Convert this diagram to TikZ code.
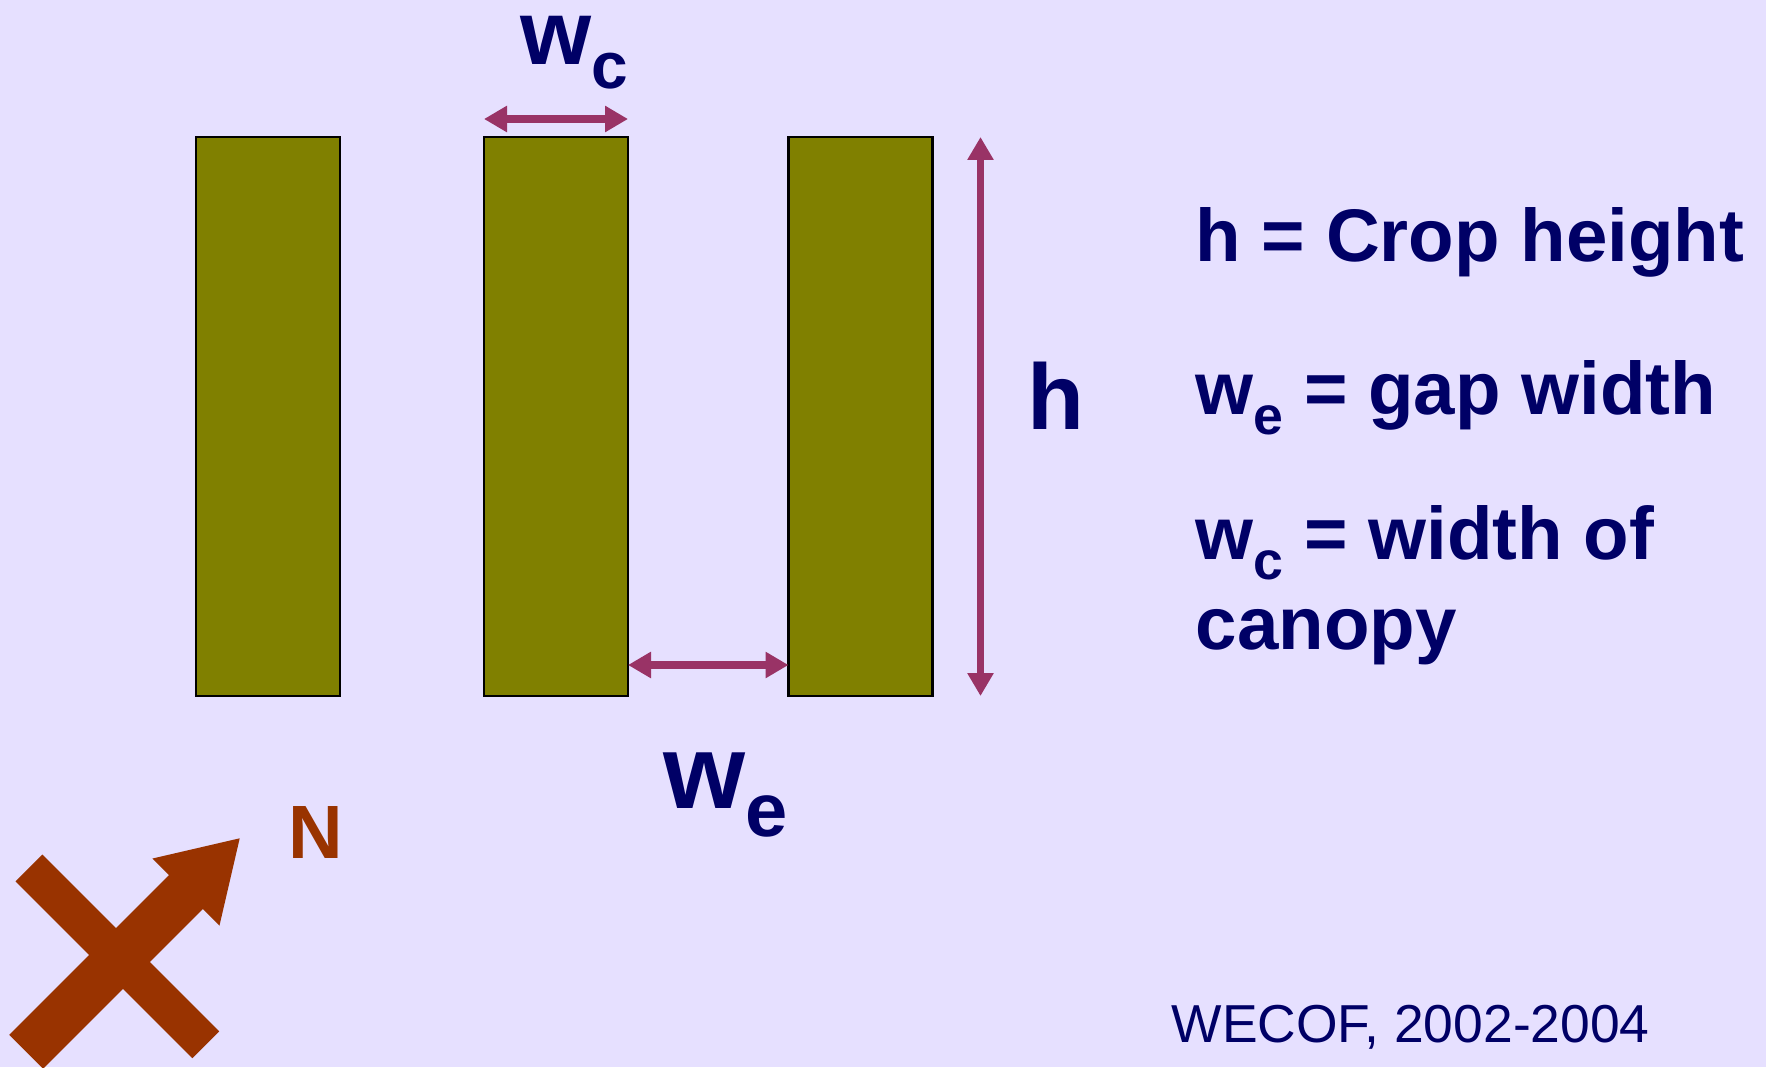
\documentclass[tikz,border=0pt]{standalone}
\usepackage{fontspec}
\setmainfont{Liberation Sans}
\usepackage{graphicx}
\usepackage{tikz}
\usetikzlibrary{calc,arrows.meta}

\definecolor{bgcol}{HTML}{E6E0FF}
\definecolor{navy}{HTML}{000066}
\definecolor{cropcol}{HTML}{808000}
\definecolor{dimcol}{HTML}{993366}
\definecolor{northcol}{HTML}{993300}
\newcommand{\lowsub}[1]{\raisebox{-0.27em}{\scalebox{0.72}{#1}}}

\begin{document}
\begin{tikzpicture}[
		crop/.style={draw=black, line width=0.8pt, fill=cropcol, minimum width=1.44cm, minimum height=5.59cm, inner sep=0pt, outer sep=0pt},
		dimarrow/.style={dimcol, line width=2pt, {Triangle[length=0.23cm, width=0.25cm]}-{Triangle[length=0.23cm, width=0.25cm]}},
		sym/.style={navy, font=\bfseries\fontsize{30}{36}\selectfont, inner sep=0pt, anchor=base west},
		defn/.style={navy, font=\bfseries\fontsize{21.2}{25}\selectfont, inner sep=0pt, anchor=base west}
	]
		
		% 1. background and page size
		\fill[bgcol] (0,0) rectangle (17.66,10.67);
		\useasboundingbox (0,0) rectangle (17.66,10.67);
		
		% 2. the three crop rows
		\node[crop] (R1) at (2.68,6.505) {};
		\node[crop] (R2) at (5.56,6.505) {};
		\node[crop] (R3) at (8.605,6.505) {};
		
		% 3. end points of the dimension arrows
		\coordinate (C1) at ($(R2.north west)+(0,0.18)$);
		\coordinate (C2) at ($(R2.north east)+(0,0.18)$);
		\coordinate (E1) at ($(R2.south east)+(0,0.31)$);
		\coordinate (E2) at ($(R3.south west)+(0,0.31)$);
		\coordinate (H1) at ($(R3.north east)+(0.48,0)$);
		\coordinate (H2) at ($(R3.south east)+(0.48,0)$);
		
		\draw[dimarrow] (C1) -- (C2); % canopy width
		\draw[dimarrow] (E1) -- (E2); % gap width
		\draw[dimarrow] (H1) -- (H2); % crop height
		
		% 4. symbols next to the arrows
		\node[sym, font=\bfseries\fontsize{26}{31}\selectfont] (WC) at (5.20,10.03) {w\lowsub{c}};
		\node[sym] (WE) at (6.63,2.59) {w\lowsub{e}};
		\node[sym, font=\bfseries\fontsize{26.5}{32}\selectfont] (H) at (10.27,6.38) {h};
		
		% 5. definitions on the right
		\node[defn] (D1) at (11.95,8.06) {h = Crop height};
		\node[defn] (D2) at (11.95,6.53) {w\lowsub{e} = gap width};
		\node[defn] (D3) at (11.95,5.08) {w\lowsub{c} = width of};
		\node[defn] (D4) at ($(D3.base west)+(0,-0.90)$) {canopy};
		
		% 6. north arrow with cross bar
		\begin{scope}[shift={(1.195,1.085)}, rotate=45]
			\fill[northcol] (-1.32,-0.24) rectangle (0.94,0.24)
				(-0.19,-1.22) rectangle (0.19,1.28)
				(0.94,0.474) -- (1.70,0) -- (0.94,-0.474) -- cycle;
		\end{scope}
		\node[northcol, font=\bfseries\fontsize{21.5}{26}\selectfont, inner sep=0pt, anchor=base west] (N) at (2.88,2.09) {N};
		
		% 7. source
		\node[navy, font=\fontsize{15.2}{18}\selectfont, inner sep=0pt, anchor=base west] (SRC) at (11.71,0.25) {WECOF, 2002-2004};
		
	\end{tikzpicture}
\end{document}
